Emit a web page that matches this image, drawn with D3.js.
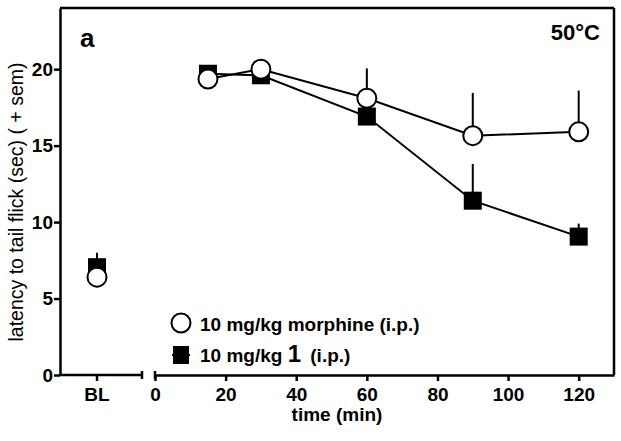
<!DOCTYPE html>
<html>
<head>
  <meta charset="utf-8">
<style>
  body { margin: 0; background: #fff; }
  svg text { font-family: "Liberation Sans", Arial, Helvetica, sans-serif; fill: #000; }
  .axis .tick text { font-size: 19px; font-weight: bold; }
  .axis path, .axis line { stroke: #000; stroke-width: 2.5px; }
</style>
</head>
<body>
<svg width="621" height="441"></svg>
<script src="https://d3js.org/d3.v7.min.js"></script>
<script>

// data
var blLabel = ["BL"];
var timesMin = [15, 30, 60, 90, 120];

var morphineBL = 6.4, morphineBLsem = 0.3;
var morphine = [19.35, 20.0, 18.1, 15.65, 15.9];
var morphineSem = [0.3, 0.2, 1.95, 2.8, 2.7];

var cmpdBL = 7.05, cmpdBLsem = 0.95;
var cmpd = [19.7, 19.6, 16.9, 11.4, 9.05];
var cmpdSem = [0.3, 0.3, 0.5, 2.4, 0.85];

var yTicks = [0, 5, 10, 15, 20];
var xTicks = [0, 20, 40, 60, 80, 100, 120];

var svg = d3.select("svg");

// scales
var y = d3.scaleLinear().domain([0, 24]).range([375, 8]);
var xBL = d3.scaleBand().domain(blLabel).range([60, 134]);
var x = d3.scaleLinear().domain([0, 130]).range([155, 614]);
var blx = xBL("BL") + xBL.bandwidth() / 2;

// y axis
svg.append("g")
    .attr("class", "axis")
    .attr("transform", "translate(60,0)")
    .call(d3.axisLeft(y).tickValues(yTicks).tickSize(6).tickSizeOuter(0).tickPadding(1));

// left x segment (BL)
var gBL = svg.append("g")
    .attr("class", "axis")
    .attr("transform", "translate(0,375)")
    .call(d3.axisBottom(xBL).tickSize(6).tickSizeOuter(0).tickPadding(7));
gBL.select(".domain").remove();
gBL.append("line").attr("x1", 60).attr("x2", 142).attr("y1", 0).attr("y2", 0)
    .attr("stroke", "#000").attr("stroke-width", 2.5);
gBL.append("line").attr("x1", 142).attr("x2", 142).attr("y1", -4).attr("y2", 4)
    .attr("stroke", "#000").attr("stroke-width", 2);

// right x segment (time)
var gT = svg.append("g")
    .attr("class", "axis")
    .attr("transform", "translate(0,375)")
    .call(d3.axisBottom(x).tickValues(xTicks).tickSize(6).tickSizeOuter(0).tickPadding(7));
gT.append("line").attr("x1", x(0)).attr("x2", x(0)).attr("y1", -4).attr("y2", 4)
    .attr("stroke", "#000").attr("stroke-width", 2);

// frame top and right
svg.append("line").attr("x1", 60).attr("x2", x(130)).attr("y1", y(24)).attr("y2", y(24))
    .attr("stroke", "#000").attr("stroke-width", 2.5);
svg.append("line").attr("x1", x(130)).attr("x2", x(130)).attr("y1", y(24)).attr("y2", y(0))
    .attr("stroke", "#000").attr("stroke-width", 2.5);

// axis titles
svg.append("text")
    .attr("transform", "translate(23,202) rotate(-90)")
    .attr("text-anchor", "middle")
    .style("font-size", "19.5px")
    .text("latency to tail flick (sec) ( + sem)");
svg.append("text")
    .attr("x", 337).attr("y", 421)
    .attr("text-anchor", "middle")
    .style("font-size", "19px").style("font-weight", "bold")
    .text("time (min)");

svg.append("text").attr("x", 80).attr("y", 47)
    .style("font-size", "26px").style("font-weight", "bold").text("a");
svg.append("text").attr("x", 600).attr("y", 40).attr("text-anchor", "end")
    .style("font-size", "22px").style("font-weight", "bold").text("50\u00b0C");

function series(vals, sems, blVal, blSem) {
  var pts = timesMin.map(function (t, i) { return { x: x(t), v: vals[i], s: sems[i] }; });
  var bl = { x: blx, v: blVal, s: blSem };
  return { pts: pts, all: pts.concat([bl]) };
}

var line = d3.line().x(function (d) { return d.x; }).y(function (d) { return y(d.v); });

function drawSeries(s, marker) {
  var g = svg.append("g");
  g.append("path").datum(s.pts).attr("d", line)
      .attr("fill", "none").attr("stroke", "#000").attr("stroke-width", 2);
  g.selectAll(".err").data(s.all).enter().append("line")
      .attr("x1", function (d) { return d.x; }).attr("x2", function (d) { return d.x; })
      .attr("y1", function (d) { return y(d.v); })
      .attr("y2", function (d) { return y(d.v + d.s); })
      .attr("stroke", "#000").attr("stroke-width", 2);
  if (marker === "square") {
    g.selectAll("rect").data(s.all).enter().append("rect")
        .attr("x", function (d) { return d.x - 9; })
        .attr("y", function (d) { return y(d.v) - 9; })
        .attr("width", 18).attr("height", 18).attr("fill", "#000");
  } else {
    g.selectAll("circle").data(s.all).enter().append("circle")
        .attr("cx", function (d) { return d.x; })
        .attr("cy", function (d) { return y(d.v); })
        .attr("r", 9.5).attr("fill", "#fff").attr("stroke", "#000").attr("stroke-width", 2);
  }
}

drawSeries(series(cmpd, cmpdSem, cmpdBL, cmpdBLsem), "square");
drawSeries(series(morphine, morphineSem, morphineBL, morphineBLsem), "circle");

// legend
var lg = svg.append("g");
lg.append("circle").attr("cx", 181).attr("cy", 323).attr("r", 9.5)
    .attr("fill", "#fff").attr("stroke", "#000").attr("stroke-width", 2);
lg.append("text").attr("x", 200).attr("y", 331)
    .style("font-size", "19px").style("font-weight", "bold")
    .text("10 mg/kg morphine (i.p.)");
lg.append("line").attr("x1", 172).attr("x2", 190).attr("y1", 355).attr("y2", 355)
    .attr("stroke", "#000").attr("stroke-width", 2);
lg.append("rect").attr("x", 173).attr("y", 346).attr("width", 16).attr("height", 18).attr("fill", "#000");
var t2 = lg.append("text").attr("x", 200).attr("y", 362)
    .style("font-size", "19px").style("font-weight", "bold");
t2.append("tspan").text("10 mg/kg ");
t2.append("tspan").style("font-size", "24px").style("font-family", "Arimo, 'Liberation Sans', Arial, sans-serif").text("1");
t2.append("tspan").attr("dx", 4).text(" (i.p.)");

</script>
</body>
</html>
